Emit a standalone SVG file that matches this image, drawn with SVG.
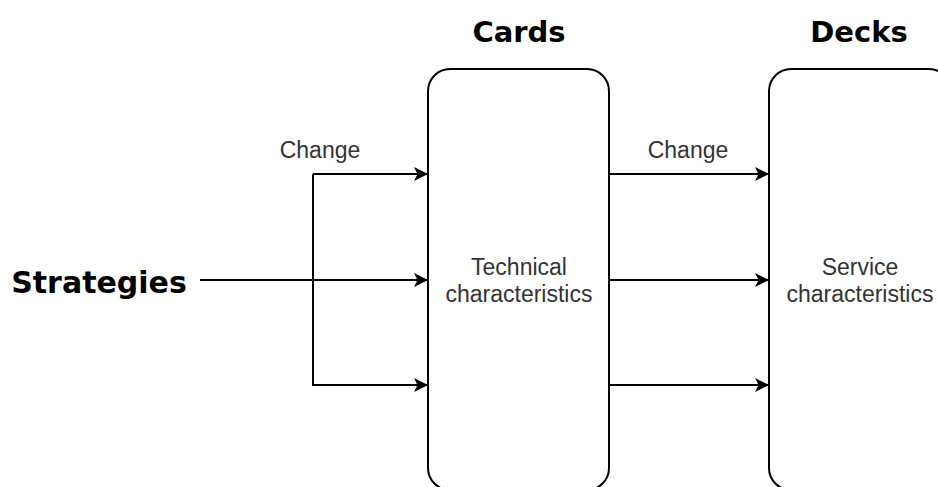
<svg xmlns="http://www.w3.org/2000/svg" width="938" height="487" viewBox="0 0 938 487">
<style>
.box{fill:#fff;stroke:#000;stroke-width:2}
.ln{fill:none;stroke:#000;stroke-width:2}
.title{font-family:"DejaVu Sans",Verdana,sans-serif;font-weight:bold;font-size:29px;fill:#000;text-anchor:middle}
.lbl{font-family:"Liberation Sans",Arial,sans-serif;font-size:23px;fill:#333;text-anchor:middle}
</style>
<defs>
<marker id="arr" viewBox="0 0 14 14" refX="14" refY="7" markerWidth="14" markerHeight="14" markerUnits="userSpaceOnUse" orient="auto">
<path d="M0,0 L14,7 L0,14 L3.5,7 Z" fill="#000"/>
</marker>
</defs>
<rect width="938" height="487" fill="#fff"/>
<g id="strategies">
<text x="99" y="293" class="title" style="font-size:30px">Strategies</text>
</g>
<g id="cards">
<text x="519" y="42" class="title">Cards</text>
<rect class="box" x="428" y="69" width="181" height="421" rx="22" ry="22"/>
<text x="519" y="275" class="lbl">Technical</text>
<text x="519" y="302" class="lbl">characteristics</text>
</g>
<g id="decks">
<text x="859" y="42" class="title">Decks</text>
<rect class="box" x="769" y="69" width="182" height="421" rx="22" ry="22"/>
<text x="860" y="275" class="lbl">Service</text>
<text x="860" y="302" class="lbl">characteristics</text>
</g>
<g id="connectors">
<path class="ln" d="M200,280 L428,280" marker-end="url(#arr)"/>
<path class="ln" d="M313,174 L428,174" marker-end="url(#arr)"/>
<path class="ln" d="M313,174 L313,385 L428,385" marker-end="url(#arr)"/>
<path class="ln" d="M609,174 L769,174" marker-end="url(#arr)"/>
<path class="ln" d="M609,280 L769,280" marker-end="url(#arr)"/>
<path class="ln" d="M609,385 L769,385" marker-end="url(#arr)"/>
<text x="320" y="158" class="lbl">Change</text>
<text x="688" y="158" class="lbl">Change</text>
</g>
</svg>
